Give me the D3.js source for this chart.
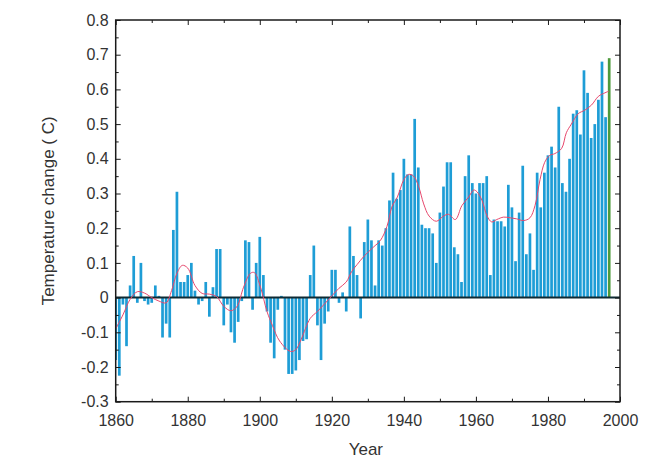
<!DOCTYPE html>
<html>
<head>
<meta charset="utf-8">
<script src="https://cdn.jsdelivr.net/npm/d3@7"></script>
<style>
  html, body { margin: 0; padding: 0; background: #ffffff; }
  svg { display: block; font-family: "Liberation Sans", Arial, sans-serif; }
</style>
</head>
<body>
<svg id="chart" width="671" height="466"></svg>
<script>
// ---- data ----
const firstYear = 1860;
const anomalies = [
  -0.18, -0.225, -0.02, -0.14, 0.035, 0.12, -0.015, 0.10, -0.01, -0.02,
  -0.015, 0.035, 0.005, -0.115, -0.075, -0.115, 0.195, 0.305, 0.045, 0.045,
  0.065, 0.10, 0.02, -0.02, -0.01, 0.045, -0.055, 0.03, 0.14, 0.14,
  -0.08, -0.02, -0.10, -0.13, -0.07, -0.01, 0.165, 0.16, -0.035, 0.10,
  0.175, 0.065, -0.04, -0.13, -0.175, -0.035, 0.005, -0.15, -0.22, -0.22,
  -0.21, -0.18, -0.125, -0.12, 0.065, 0.15, -0.08, -0.18, -0.075, -0.04,
  0.08, 0.08, -0.015, 0.015, -0.04, 0.205, 0.12, 0.065, -0.06, 0.16,
  0.225, 0.165, 0.035, 0.165, 0.15, 0.20, 0.28, 0.36, 0.285, 0.31,
  0.40, 0.355, 0.355, 0.515, 0.375, 0.21, 0.20, 0.20, 0.185, 0.10,
  0.245, 0.32, 0.39, 0.39, 0.145, 0.125, 0.045, 0.35, 0.41, 0.33,
  0.30, 0.33, 0.33, 0.35, 0.065, 0.225, 0.22, 0.22, 0.205, 0.325,
  0.26, 0.105, 0.245, 0.38, 0.125, 0.185, 0.08, 0.36, 0.26, 0.36,
  0.41, 0.435, 0.375, 0.55, 0.33, 0.305, 0.40, 0.53, 0.54, 0.47,
  0.655, 0.59, 0.46, 0.50, 0.57, 0.68, 0.52, 0.69
];
const years = anomalies.map((_, i) => firstYear + i);
const highlightYear = 1997;

// smoothed curve
const smoothYears = [1860, 1862, 1864, 1866, 1868, 1870, 1872, 1874, 1875.5, 1877, 1878.5, 1880, 1882, 1884, 1886, 1888, 1890, 1892, 1893.7, 1895.5, 1897.4, 1898.5, 1900.2, 1902, 1903.5, 1905.5, 1908.5, 1910, 1911.5, 1914, 1916, 1918, 1920, 1922, 1924, 1925.5, 1927, 1929, 1931.5, 1933.5, 1935.3, 1936.7, 1938.2, 1940, 1941.3, 1942.7, 1944.1, 1945.5, 1947, 1949, 1951, 1952.4, 1954.3, 1956.1, 1958, 1959.4, 1960.3, 1961.7, 1963.1, 1964.4, 1965.8, 1967.7, 1969.5, 1971.3, 1973.2, 1975, 1976.4, 1977.8, 1979.1, 1980.5, 1981.9, 1983.8, 1985.1, 1986.5, 1988.4, 1990.2, 1992.1, 1994, 1995.8, 1996.9];
const smoothValues = [-0.09, -0.05, -0.005, 0.017, 0.013, 0.0, -0.01, -0.015, 0.02, 0.07, 0.093, 0.085, 0.035, 0.012, 0.01, 0.003, -0.025, -0.038, -0.025, 0.03, 0.07, 0.072, 0.03, -0.04, -0.08, -0.125, -0.155, -0.15, -0.12, -0.06, -0.04, -0.018, 0.005, 0.027, 0.045, 0.075, 0.095, 0.12, 0.145, 0.165, 0.205, 0.262, 0.29, 0.34, 0.355, 0.35, 0.32, 0.27, 0.235, 0.22, 0.235, 0.24, 0.225, 0.265, 0.29, 0.31, 0.305, 0.28, 0.235, 0.218, 0.225, 0.232, 0.23, 0.227, 0.222, 0.23, 0.265, 0.34, 0.39, 0.41, 0.415, 0.43, 0.475, 0.50, 0.53, 0.54, 0.555, 0.58, 0.59, 0.595];

const xTicks = [1860, 1880, 1900, 1920, 1940, 1960, 1980, 2000];
const xTickLabels = ["1860", "1880", "1900", "1920", "1940", "1960", "1980", "2000"];
const yTicks = [-0.3, -0.2, -0.1, 0, 0.1, 0.2, 0.3, 0.4, 0.5, 0.6, 0.7, 0.8];
const yTickLabels = ["-0.3", "-0.2", "-0.1", "0", "0.1", "0.2", "0.3", "0.4", "0.5", "0.6", "0.7", "0.8"];
const xMinorTicks = [1870, 1890, 1910, 1930, 1950, 1970, 1990];
const yMinorTicks = [-0.25, -0.15, -0.05, 0.05, 0.15, 0.25, 0.35, 0.45, 0.55, 0.65, 0.75];

const xTitle = "Year";
const yTitle = "Temperature change ( C)";

// ---- layout ----
const plotLeft = 115.7, plotRight = 620, plotTop = 20, plotBottom = 401.7;
const svg = d3.select("#chart");
const x = d3.scaleLinear().domain([1860, 2000]).range([plotLeft, plotRight]);
const y = d3.scaleLinear().domain([-0.3, 0.8]).range([plotBottom, plotTop]);

svg.append("defs").append("clipPath").attr("id", "plotclip")
  .append("rect").attr("x", plotLeft).attr("y", plotTop)
  .attr("width", plotRight - plotLeft).attr("height", plotBottom - plotTop);

const plot = svg.append("g").attr("clip-path", "url(#plotclip)");

const bw = 2.7;
plot.selectAll("rect.bar")
  .data(years.map((yr, i) => ({ yr, v: anomalies[i] })))
  .join("rect")
  .attr("class", "bar")
  .attr("x", d => x(d.yr) - bw / 2)
  .attr("width", bw)
  .attr("y", d => Math.min(y(d.v), y(0)))
  .attr("height", d => Math.abs(y(d.v) - y(0)))
  .attr("fill", d => d.yr === highlightYear ? "#4e9a3c" : "#1e9dd6");

// zero line
plot.append("line")
  .attr("x1", plotLeft).attr("x2", plotRight)
  .attr("y1", y(0)).attr("y2", y(0))
  .attr("stroke", "#0f2a33").attr("stroke-width", 2);

// smoothed curve
const line = d3.line()
  .x(d => x(d[0])).y(d => y(d[1]))
  .curve(d3.curveCatmullRom.alpha(0.5));
plot.append("path")
  .datum(smoothYears.map((yr, i) => [yr, smoothValues[i]]))
  .attr("d", line)
  .attr("fill", "none")
  .attr("stroke", "#e6476c")
  .attr("stroke-width", 1);

// axes
const axisColor = "#1a1a1a";
const textColor = "#333";
function styleAxis(g) {
  g.select(".domain").remove();
  g.selectAll(".tick line").attr("stroke", axisColor).attr("stroke-width", 1);
  g.selectAll(".tick text").attr("fill", textColor).style("font-size", "16px")
    .style("font-family", "'Liberation Sans', Arial, sans-serif");
}

svg.append("g").attr("transform", `translate(${plotLeft},0)`)
  .call(d3.axisLeft(y).tickValues(yTicks).tickSize(-5).tickPadding(7)
    .tickFormat((d, i) => yTickLabels[i]))
  .call(styleAxis);
svg.append("g").attr("transform", `translate(${plotLeft},0)`)
  .call(d3.axisLeft(y).tickValues(yMinorTicks).tickSize(-3).tickFormat(""))
  .call(styleAxis);
svg.append("g").attr("transform", `translate(${plotRight},0)`)
  .call(d3.axisRight(y).tickValues(yTicks).tickSize(-5).tickFormat(""))
  .call(styleAxis);
svg.append("g").attr("transform", `translate(${plotRight},0)`)
  .call(d3.axisRight(y).tickValues(yMinorTicks).tickSize(-3).tickFormat(""))
  .call(styleAxis);
svg.append("g").attr("transform", `translate(0,${plotBottom})`)
  .call(d3.axisBottom(x).tickValues(xTicks).tickSize(-5).tickPadding(13)
    .tickFormat((d, i) => xTickLabels[i]))
  .call(styleAxis);
svg.append("g").attr("transform", `translate(0,${plotBottom})`)
  .call(d3.axisBottom(x).tickValues(xMinorTicks).tickSize(-3).tickFormat(""))
  .call(styleAxis);
svg.append("g").attr("transform", `translate(0,${plotTop})`)
  .call(d3.axisTop(x).tickValues(xTicks).tickSize(-5).tickFormat(""))
  .call(styleAxis);
svg.append("g").attr("transform", `translate(0,${plotTop})`)
  .call(d3.axisTop(x).tickValues(xMinorTicks).tickSize(-3).tickFormat(""))
  .call(styleAxis);

// frame
svg.append("rect")
  .attr("x", plotLeft).attr("y", plotTop)
  .attr("width", plotRight - plotLeft).attr("height", plotBottom - plotTop)
  .attr("fill", "none").attr("stroke", axisColor).attr("stroke-width", 1.5);

// titles
svg.append("text")
  .attr("x", (plotLeft + plotRight) / 2 - 2).attr("y", 455)
  .attr("text-anchor", "middle")
  .attr("fill", textColor).style("font-size", "17px")
  .text(xTitle);
svg.append("text")
  .attr("transform", `translate(54,${(plotTop + plotBottom) / 2}) rotate(-90)`)
  .attr("text-anchor", "middle")
  .attr("fill", textColor).style("font-size", "17px")
  .text(yTitle);
</script>
</body>
</html>
